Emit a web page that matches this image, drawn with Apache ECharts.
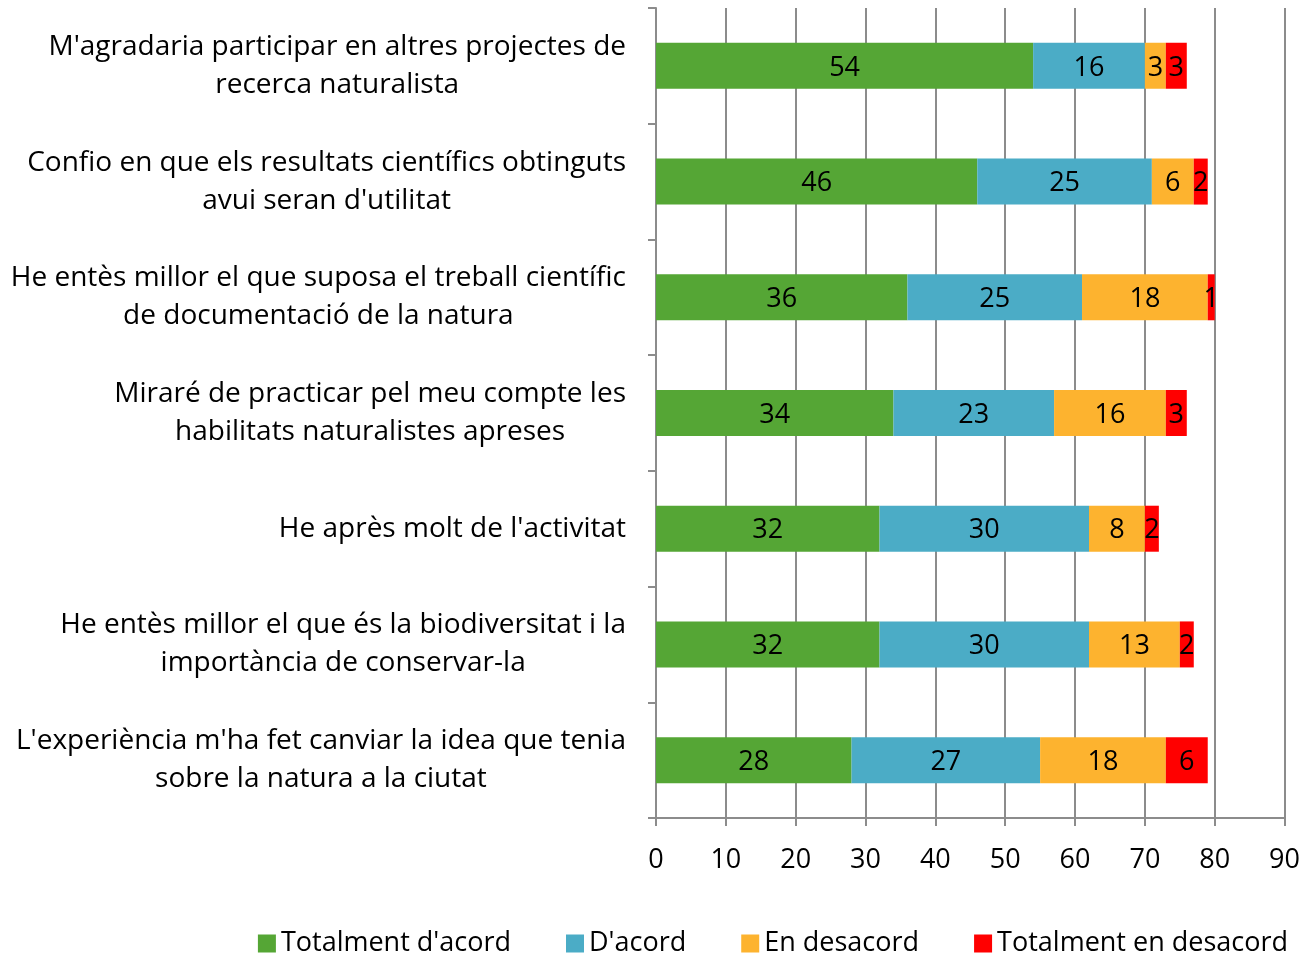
<!DOCTYPE html>
<html>
<head>
<meta charset="utf-8">
<script src="https://cdn.jsdelivr.net/npm/echarts@6/dist/echarts.min.js"></script>
<style>
    html, body { margin: 0; padding: 0; background: #fff; }
    #chart { width: 1303px; height: 953px; }
</style>
</head>
<body>
<div id="chart"></div>
<script>
// dades (de dalt a baix)
const categories = [
    "M'agradaria participar en altres projectes de\nrecerca naturalista",
    "Confio en que els resultats científics obtinguts\navui seran d'utilitat",
    "He entès millor el que suposa el treball científic\nde documentació de la natura",
    "Miraré de practicar pel meu compte les\nhabilitats naturalistes apreses",
    "He après molt de l'activitat",
    "He entès millor el que és la biodiversitat i la\nimportància de conservar-la",
    "L'experiència m'ha fet canviar la idea que tenia\nsobre la natura a la ciutat"
];
const seriesNames = ["Totalment d'acord", "D'acord", "En desacord", "Totalment en desacord"];
const totalmentAcord = [54, 46, 36, 34, 32, 32, 28];
const acord = [16, 25, 25, 23, 30, 30, 27];
const desacord = [3, 6, 18, 16, 8, 13, 18];
const totalmentDesacord = [3, 2, 1, 3, 2, 2, 6];
const xTicks = [0, 10, 20, 30, 40, 50, 60, 70, 80, 90];

const colors = ['#55a635', '#4bacc6', '#fdb32f', '#ff0000'];
const fontFamily = '"Open Sans", "Noto Sans", sans-serif';
const fs = 28;

const myChart = echarts.init(document.getElementById('chart'));

const values = [totalmentAcord, acord, desacord, totalmentDesacord];
const series = values.map((arr, i) => ({
    name: seriesNames[i],
    type: 'bar',
    stack: 'total',
    barWidth: 46,
    itemStyle: { color: colors[i] },
    label: {
        show: true,
        position: 'inside',
        color: '#000',
        fontSize: fs - 1,
        fontFamily: fontFamily,
        offset: [0, 2]
    },
    emphasis: { disabled: true },
    data: arr
}));

const option = {
    animation: false,
    color: colors,
    grid: {
        left: 656,
        right: 18,
        top: 8,
        bottom: 135,
        containLabel: false
    },
    legend: {
        top: 925,
        right: 10,
        itemWidth: 18,
        itemHeight: 18,
        itemGap: 55,
        icon: 'rect',
        textStyle: { color: '#000', fontSize: fs - 1, fontFamily: fontFamily },
        data: seriesNames
    },
    xAxis: {
        type: 'value',
        min: xTicks[0],
        max: xTicks[xTicks.length - 1],
        interval: 10,
        axisLine: { show: true, lineStyle: { color: '#8c8c8c', width: 2 } },
        axisTick: { show: true, length: 8, lineStyle: { color: '#8c8c8c', width: 2 } },
        splitLine: { show: true, lineStyle: { color: '#8c8c8c', width: 2 } },
        axisLabel: {
            color: '#000',
            fontSize: fs - 1,
            fontFamily: fontFamily,
            margin: 29
        }
    },
    yAxis: {
        type: 'category',
        inverse: true,
        data: categories,
        axisLine: { show: true, lineStyle: { color: '#8c8c8c', width: 2 } },
        axisTick: { show: true, length: 8, lineStyle: { color: '#8c8c8c', width: 2 } },
        axisLabel: {
            color: '#000',
            fontSize: fs,
            fontFamily: fontFamily,
            margin: 30,
            lineHeight: 38,
            formatter: function (v) {
                return v.split('\n').map(s => '{a|' + s + '}').join('\n');
            },
            rich: {
                a: {
                    align: 'center',
                    fontSize: fs,
                    lineHeight: 38,
                    fontFamily: fontFamily,
                    color: '#000'
                }
            }
        }
    },
    series: series
};
myChart.setOption(option);
</script>
</body>
</html>
